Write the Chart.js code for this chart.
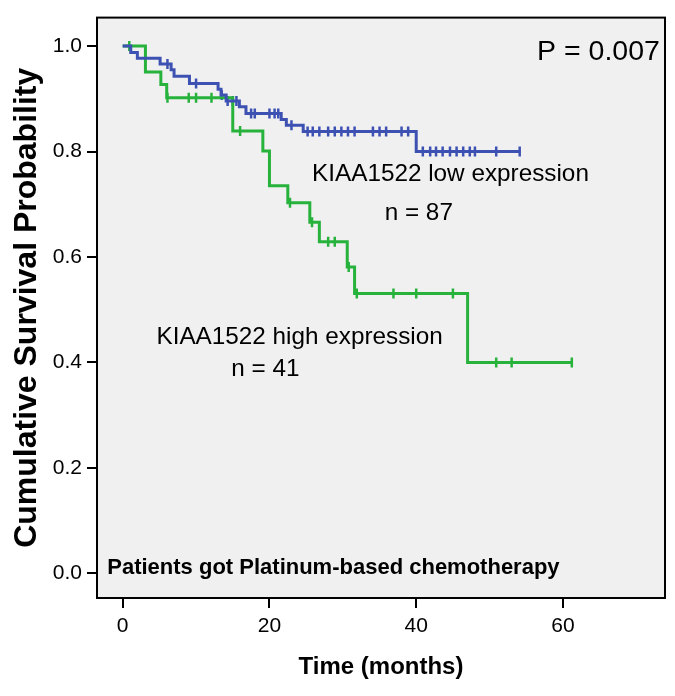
<!DOCTYPE html>
<html>
<head>
<meta charset="utf-8">
<script src="https://cdn.jsdelivr.net/npm/chart.js@4/dist/chart.umd.min.js"></script>
<style>
  html, body { margin: 0; padding: 0; background: #ffffff; }
  #wrap { width: 675px; height: 696px; }
</style>
</head>
<body>
<div id="wrap"><canvas id="c" width="675" height="696"></canvas></div>
<script>
// ---- data ----
const xTickValues = [0, 20, 40, 60];
const yTickValues = [0.0, 0.2, 0.4, 0.6, 0.8, 1.0];

// KIAA1522 high expression (n = 41): step times (months) and survival after each step
const highTimes = [0, 3.1, 5.2, 6.0, 15.0, 19.1, 20.0, 22.5, 25.5, 26.8, 30.6, 31.6, 47.0, 61.2];
const highSurv  = [1.0, 0.951, 0.927, 0.902, 0.839, 0.801, 0.735, 0.703, 0.666, 0.629, 0.581, 0.531, 0.400, 0.400];
const highCensored = [0.9, 6.1, 9.0, 10.0, 12.1, 16.0, 22.8, 25.8, 28.0, 28.9, 30.8, 31.9, 36.9, 40.0, 45.0, 50.9, 53.0, 61.2];

// KIAA1522 low expression (n = 87)
const lowTimes = [0, 1.1, 2.0, 5.1, 6.6, 7.0, 9.1, 13.0, 13.4, 14.1, 15.9, 16.8, 21.6, 22.3, 24.6, 40.0, 54.1];
const lowSurv  = [1.0, 0.988, 0.977, 0.966, 0.955, 0.943, 0.929, 0.918, 0.907, 0.896, 0.885, 0.872, 0.861, 0.850, 0.838, 0.800, 0.800];
const lowCensored = [6.1, 10.0, 13.5, 14.3, 15.0, 15.5, 17.5, 18.0, 20.0, 20.7, 21.2, 23.0, 25.2, 25.9, 26.8, 28.0, 28.9, 29.8, 30.7, 31.6, 34.1, 35.0, 35.9, 38.0, 38.9, 40.9, 41.9, 42.7, 43.6, 44.6, 45.5, 46.4, 47.3, 48.0, 50.9, 54.1];

const xTitle = 'Time (months)';
const yTitle = 'Cumulative Survival Probability';

// ---- helpers ----
function survAt(times, surv, t) {
  let s = surv[0];
  for (let i = 0; i < times.length; i++) { if (times[i] <= t) s = surv[i]; }
  return s;
}
const toPts = (xs, ys) => xs.map((x, i) => ({ x: x, y: ys[i] }));
const censorPts = (cs, times, surv) => cs.map(t => ({ x: t, y: survAt(times, surv, t) }));

const BLUE = '#3d51b3';
const GREEN = '#27b23c';
const FONT = '"Liberation Sans", Arial, Helvetica, sans-serif';

const notes = [
  { text: 'P = 0.007', x: 73.2, y: 0.988, align: 'right', font: '28.5px ' + FONT },
  { text: 'KIAA1522 low expression', x: 25.8, y: 0.756, align: 'left', font: '24.3px ' + FONT },
  { text: 'n = 87', x: 35.7, y: 0.683, align: 'left', font: '24.3px ' + FONT },
  { text: 'KIAA1522 high expression', x: 4.6, y: 0.447, align: 'left', font: '24.3px ' + FONT },
  { text: 'n = 41', x: 14.8, y: 0.387, align: 'left', font: '24.3px ' + FONT },
  { text: 'Patients got Platinum-based chemotherapy', x: -2.1, y: 0.011, align: 'left', font: 'bold 22px ' + FONT }
];

const framePlugin = {
  id: 'frame',
  beforeDatasetsDraw(chart) {
    const { ctx, chartArea: a } = chart;
    ctx.save();
    ctx.fillStyle = '#f0f0f0';
    ctx.fillRect(a.left, a.top, a.right - a.left, a.bottom - a.top);
    ctx.restore();
  },
  afterDatasetsDraw(chart) {
    const { ctx, chartArea: a, scales } = chart;
    ctx.save();
    ctx.strokeStyle = '#000';
    ctx.lineWidth = 2;
    ctx.strokeRect(a.left, a.top, a.right - a.left, a.bottom - a.top);
    ctx.fillStyle = '#000';
    ctx.textBaseline = 'middle';
    notes.forEach(n => {
      ctx.font = n.font;
      ctx.textAlign = n.align;
      ctx.fillText(n.text, scales.x.getPixelForValue(n.x), scales.y.getPixelForValue(n.y));
    });
    ctx.restore();
  }
};

new Chart(document.getElementById('c'), {
  type: 'scatter',
  data: {
    datasets: [
      { label: 'low', data: toPts(lowTimes, lowSurv), showLine: true, stepped: 'before',
        borderColor: BLUE, borderWidth: 3, pointRadius: 0, fill: false },
      { label: 'high', data: toPts(highTimes, highSurv), showLine: true, stepped: 'before',
        borderColor: GREEN, borderWidth: 3, pointRadius: 0, fill: false },
      { label: 'low censored', data: censorPts(lowCensored, lowTimes, lowSurv), showLine: false,
        pointStyle: 'line', rotation: 90, pointRadius: 5, borderColor: BLUE, pointBorderWidth: 2.5 },
      { label: 'high censored', data: censorPts(highCensored, highTimes, highSurv), showLine: false,
        pointStyle: 'line', rotation: 90, pointRadius: 5, borderColor: GREEN, pointBorderWidth: 2.5 }
    ]
  },
  options: {
    responsive: false,
    animation: false,
    events: [],
    layout: { padding: { left: 0, top: 15, right: 10, bottom: 0 } },
    plugins: { legend: { display: false }, tooltip: { enabled: false } },
    scales: {
      x: {
        type: 'linear', min: -3.5, max: 73.9,
        afterBuildTicks: s => { s.ticks = xTickValues.map(v => ({ value: v })); },
        afterFit: s => { s.height = 98; },
        border: { display: false },
        grid: { drawOnChartArea: false, drawTicks: true, tickLength: 10, color: '#000', lineWidth: 2 },
        ticks: { color: '#000', font: { family: FONT, size: 21 }, padding: 6, maxRotation: 0 },
        title: { display: true, text: xTitle, color: '#000', font: { family: FONT, size: 24, weight: 'bold' },
                 padding: { top: 0, bottom: 14 } }
      },
      y: {
        type: 'linear', min: -0.0466, max: 1.054,
        afterBuildTicks: s => { s.ticks = yTickValues.map(v => ({ value: v })); },
        afterFit: s => { s.width = 97; },
        border: { display: false },
        grid: { drawOnChartArea: false, drawTicks: true, tickLength: 10, color: '#000', lineWidth: 2 },
        ticks: { color: '#000', font: { family: FONT, size: 21 }, padding: 5,
                 callback: v => v.toFixed(1) },
        title: { display: true, text: yTitle, color: '#000', font: { family: FONT, size: 32, weight: 'bold' },
                 padding: { top: 8, bottom: 0 } }
      }
    }
  },
  plugins: [framePlugin]
});
</script>
</body>
</html>
